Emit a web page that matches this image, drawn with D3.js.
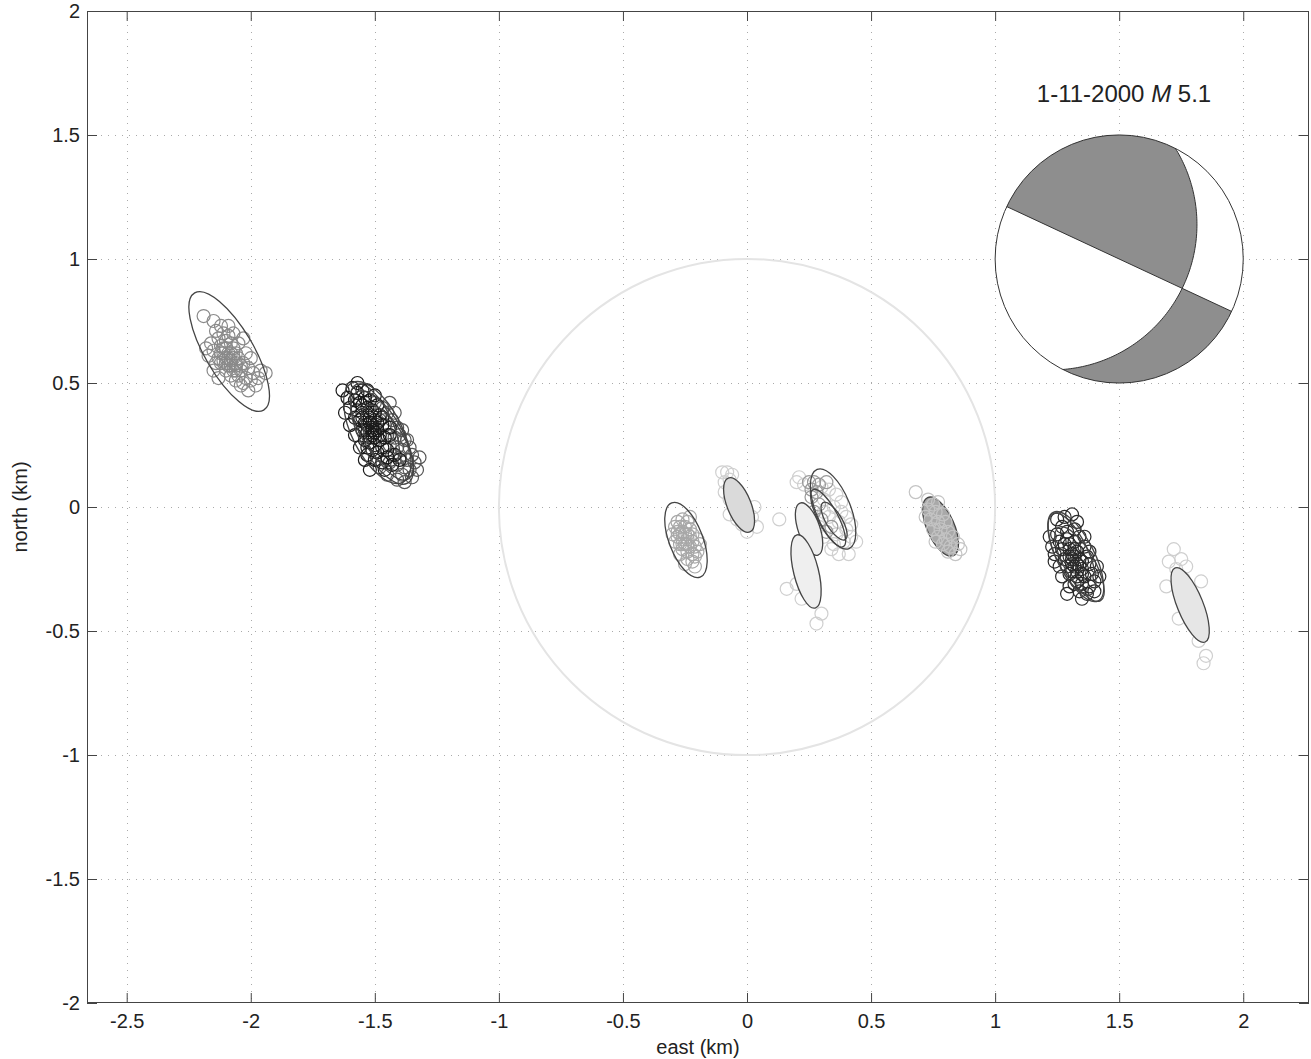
<!DOCTYPE html>
<html>
<head>
<meta charset="utf-8">
<script src="https://cdn.jsdelivr.net/npm/d3@7"></script>
<style>
    body { margin: 0; background: #fff; }
    svg text { font-family: "Liberation Sans", Arial, Helvetica, sans-serif; fill: #222; }
</style>
</head>
<body>
<svg id="chart" width="1311" height="1059"></svg>
<script>
'use strict';

/* global d3 */

// axis ticks
var xTicks = [-2.5, -2, -1.5, -1, -0.5, 0, 0.5, 1, 1.5, 2];
var yTicks = [-2, -1.5, -1, -0.5, 0, 0.5, 1, 1.5, 2];

// relocated events, [east, north] in km
var clusterA = [[-2.19,0.77],[-2.15,0.75],[-2.12,0.73],[-2.14,0.71],[-2.11,0.70],[-2.09,0.69],[-2.13,0.68],[-2.10,0.67],
    [-2.08,0.66],[-2.12,0.65],[-2.10,0.64],[-2.07,0.64],[-2.15,0.63],[-2.11,0.62],[-2.09,0.62],[-2.06,0.62],[-2.13,0.60],
    [-2.10,0.60],[-2.08,0.59],[-2.05,0.60],[-2.12,0.58],[-2.09,0.57],[-2.06,0.57],[-2.03,0.58],[-2.10,0.55],[-2.07,0.55],
    [-2.04,0.55],[-2.01,0.56],[-2.08,0.53],[-2.05,0.53],[-2.02,0.52],[-1.99,0.54],[-1.96,0.55],[-2.06,0.51],[-2.03,0.50],
    [-2.00,0.51],[-1.97,0.52],[-2.04,0.49],[-2.16,0.66],[-2.14,0.58],[-2.02,0.62],[-2.00,0.60],[-2.05,0.66],[-2.17,0.61],
    [-2.09,0.73],[-1.94,0.54],[-2.15,0.55],[-2.13,0.52],[-2.07,0.70],[-2.03,0.68],[-2.18,0.64],[-2.01,0.47],[-1.98,0.49],
    [-2.11,0.59],[-2.08,0.62],[-2.06,0.58],[-2.11,0.64],[-2.09,0.60],[-2.07,0.60],[-2.10,0.58],[-2.08,0.57],[-2.12,0.62],
    [-2.06,0.55],[-2.04,0.57]];
var clusterBdark = [[-1.59,0.48],[-1.57,0.46],[-1.55,0.47],[-1.58,0.43],[-1.56,0.42],[-1.54,0.44],[-1.52,0.43],[-1.57,0.39],
    [-1.55,0.38],[-1.53,0.40],[-1.51,0.39],[-1.49,0.41],[-1.56,0.35],[-1.54,0.34],[-1.52,0.36],[-1.50,0.35],[-1.48,0.37],
    [-1.55,0.31],[-1.53,0.30],[-1.51,0.32],[-1.49,0.31],[-1.47,0.33],[-1.54,0.27],[-1.52,0.26],[-1.50,0.28],[-1.48,0.27],
    [-1.51,0.23],[-1.49,0.22],[-1.47,0.24],[-1.45,0.23],[-1.50,0.19],[-1.47,0.18],[-1.45,0.20],[-1.43,0.17],[-1.46,0.15],
    [-1.58,0.36],[-1.60,0.40],[-1.44,0.29],[-1.53,0.21],[-1.42,0.21],[-1.61,0.44],[-1.40,0.19],[-1.53,0.33],[-1.51,0.29],
    [-1.55,0.41],[-1.50,0.25],[-1.62,0.38],[-1.60,0.33],[-1.58,0.29],[-1.56,0.24],[-1.54,0.19],[-1.52,0.15],[-1.63,0.47],
    [-1.57,0.50],[-1.53,0.47],[-1.46,0.28],[-1.44,0.32],[-1.47,0.36],[-1.50,0.45],[-1.53,0.37],[-1.52,0.34],[-1.51,0.31],
    [-1.50,0.30],[-1.52,0.28],[-1.54,0.31],[-1.55,0.36],[-1.49,0.34],[-1.50,0.38],[-1.53,0.24],[-1.48,0.29]];
var clusterBgray = [[-1.50,0.42],[-1.47,0.40],[-1.45,0.38],[-1.48,0.35],[-1.46,0.33],[-1.43,0.35],[-1.41,0.32],[-1.45,0.29],
    [-1.42,0.28],[-1.40,0.29],[-1.38,0.27],[-1.44,0.25],[-1.41,0.24],[-1.39,0.23],[-1.36,0.24],[-1.43,0.21],[-1.40,0.20],
    [-1.37,0.19],[-1.35,0.21],[-1.41,0.17],[-1.38,0.16],[-1.36,0.15],[-1.39,0.13],[-1.46,0.24],[-1.44,0.18],[-1.34,0.18],
    [-1.33,0.15],[-1.35,0.12],[-1.37,0.27],[-1.39,0.31],[-1.42,0.38],[-1.44,0.42],[-1.32,0.20],[-1.38,0.10],[-1.41,0.11],
    [-1.45,0.13],[-1.48,0.16]];
var clusterC = [[-0.28,-0.06],[-0.26,-0.05],[-0.24,-0.06],[-0.29,-0.08],[-0.27,-0.08],[-0.25,-0.08],[-0.23,-0.09],[-0.28,-0.10],
    [-0.26,-0.10],[-0.24,-0.11],[-0.22,-0.11],[-0.28,-0.12],[-0.26,-0.13],[-0.24,-0.13],[-0.22,-0.14],[-0.27,-0.15],
    [-0.25,-0.15],[-0.23,-0.16],[-0.21,-0.16],[-0.26,-0.17],[-0.24,-0.18],[-0.22,-0.19],[-0.20,-0.18],[-0.24,-0.21],
    [-0.22,-0.22],[-0.20,-0.13],[-0.30,-0.11],[-0.21,-0.24],[-0.29,-0.14],[-0.27,-0.19],[-0.19,-0.15],[-0.23,-0.04],
    [-0.21,-0.20],[-0.25,-0.23],[-0.25,-0.11],[-0.24,-0.15],[-0.26,-0.15],[-0.23,-0.12],[-0.27,-0.11]];
var clusterD = [[-0.10,0.14],[-0.08,0.14],[-0.06,0.13],[-0.09,0.10],[-0.07,0.11],[-0.09,0.06],[-0.06,0.07],[-0.07,0.03],
    [-0.05,0.04],[-0.07,-0.03],[-0.04,-0.05],[-0.03,0.00],[0.03,0.00],[0.02,-0.04],[0.04,-0.08],[0.00,-0.10],[-0.02,-0.07],
    [-0.05,0.02]];
var clusterElight = [[0.20,0.10],[0.21,0.12],[0.23,0.09],[0.30,0.08],[0.33,0.07],[0.36,0.05],[0.31,0.03],[0.35,0.00],
    [0.38,-0.02],[0.33,-0.04],[0.37,-0.06],[0.40,-0.09],[0.42,-0.12],[0.44,-0.14],[0.39,-0.14],[0.35,-0.15],[0.34,-0.17],
    [0.41,-0.19],[0.37,-0.19],[0.31,-0.12],[0.29,-0.08],[0.13,-0.05],[0.20,-0.31],[0.16,-0.33],[0.22,-0.37],[0.30,-0.43],
    [0.28,-0.47],[0.31,-0.02],[0.40,-0.04],[0.38,0.02],[0.42,-0.07],[0.36,-0.11]];
var clusterEmid = [[0.25,0.10],[0.27,0.10],[0.28,0.06],[0.29,0.09],[0.26,0.04],[0.29,0.01],[0.32,0.10],[0.27,-0.02],
    [0.30,-0.05],[0.34,-0.08],[0.26,0.07],[0.32,-0.10]];
var clusterF = [[0.68,0.06],[0.73,0.03],[0.75,0.01],[0.77,0.02],[0.73,-0.01],[0.76,-0.02],[0.79,-0.03],[0.74,-0.05],
    [0.77,-0.06],[0.80,-0.06],[0.75,-0.09],[0.78,-0.09],[0.81,-0.10],[0.77,-0.12],[0.80,-0.13],[0.83,-0.12],[0.79,-0.15],
    [0.82,-0.16],[0.85,-0.15],[0.81,-0.18],[0.84,-0.19],[0.72,-0.04],[0.76,-0.14],[0.86,-0.17]];
var clusterG = [[1.25,-0.05],[1.31,-0.03],[1.27,-0.08],[1.25,-0.11],[1.29,-0.10],[1.32,-0.09],[1.26,-0.14],[1.29,-0.13],
    [1.32,-0.14],[1.34,-0.12],[1.27,-0.17],[1.30,-0.17],[1.33,-0.18],[1.36,-0.16],[1.28,-0.21],[1.31,-0.21],[1.34,-0.21],
    [1.37,-0.20],[1.29,-0.24],[1.32,-0.24],[1.35,-0.25],[1.38,-0.23],[1.30,-0.27],[1.33,-0.28],[1.36,-0.28],[1.39,-0.27],
    [1.32,-0.31],[1.35,-0.31],[1.38,-0.32],[1.34,-0.34],[1.37,-0.35],[1.24,-0.19],[1.40,-0.30],[1.26,-0.24],[1.30,-0.32],
    [1.28,-0.15],[1.31,-0.19],[1.33,-0.23],[1.35,-0.27],[1.22,-0.12],[1.23,-0.16],[1.24,-0.22],[1.27,-0.28],[1.29,-0.35],
    [1.41,-0.24],[1.42,-0.28],[1.40,-0.34],[1.38,-0.18],[1.36,-0.12],[1.33,-0.06],[1.28,-0.04],[1.35,-0.37],[1.30,-0.20],
    [1.32,-0.20],[1.31,-0.23],[1.33,-0.26],[1.34,-0.24],[1.30,-0.15],[1.32,-0.17],[1.35,-0.22],[1.33,-0.30],[1.31,-0.26]];
var clusterH = [[1.72,-0.17],[1.70,-0.22],[1.75,-0.21],[1.77,-0.24],[1.73,-0.25],[1.69,-0.32],[1.83,-0.30],[1.76,-0.33],
    [1.79,-0.37],[1.81,-0.42],[1.78,-0.44],[1.74,-0.45],[1.83,-0.48],[1.82,-0.54],[1.85,-0.60],[1.84,-0.63],[1.80,-0.39],
    [1.76,-0.29]];

// error ellipses, [east, north, semi-major, semi-minor, azimuth of major axis from east (deg)]
var ellipsesA = [[-2.087, 0.627, 0.274, 0.097, -59.5]];
var ellipsesB = [[-1.49, 0.30, 0.225, 0.10, -63], [-1.47, 0.28, 0.21, 0.085, -61], [-1.50, 0.33, 0.18, 0.07, -65],
    [-1.45, 0.26, 0.17, 0.07, -60]];
var ellipsesC = [[-0.246, -0.133, 0.16, 0.068, -69]];
var ellipsesD = [[-0.032, 0.008, 0.117, 0.048, -68]];
var ellipsesE = [[0.347, -0.008, 0.172, 0.07, -68], [0.327, -0.045, 0.13, 0.04, -62], [0.351, -0.057, 0.087, 0.032, -59]];
var ellipsesE2 = [[0.25, -0.089, 0.111, 0.044, -71], [0.238, -0.26, 0.152, 0.05, -76]];
var ellipsesF = [[0.78, -0.079, 0.128, 0.055, -66]];
var ellipsesG = [[1.325, -0.20, 0.20, 0.075, -63], [1.31, -0.19, 0.18, 0.065, -65], [1.34, -0.23, 0.17, 0.06, -60]];
var ellipsesH = [[1.786, -0.395, 0.161, 0.052, -68]];

// reference circle and focal mechanism
var refRadius = 1;
var bbCenter = [1.5, 1.0];
var bbRadius = 0.5;
var plane1Strike = 115; // vertical plane
var plane2DipDir = 117;
var plane2Dip = 31.5;

var plot = { left: 87, top: 11, right: 1309, bottom: 1003 };
var FONT = "'Liberation Sans', Arial, Helvetica, sans-serif";

var svg = d3.select("#chart");

var x = d3.scaleLinear().domain([-2.66, 2.265]).range([plot.left, plot.right]);
var y = d3.scaleLinear().domain([-2, 2]).range([plot.bottom, plot.top]);
var k = x(1) - x(0);

function fmt(d) { return String(d); }

// grid
var grid = svg.append("g").attr("class", "grid");
grid.selectAll("line.gx")
    .data(xTicks)
    .enter().append("line")
    .attr("x1", function (d) { return Math.round(x(d)) + 0.5; })
    .attr("x2", function (d) { return Math.round(x(d)) + 0.5; })
    .attr("y1", plot.top)
    .attr("y2", plot.bottom)
    .attr("stroke", "#aaa")
    .attr("stroke-dasharray", "1,6");
grid.selectAll("line.gy")
    .data(yTicks.slice(1, -1))
    .enter().append("line")
    .attr("y1", function (d) { return Math.round(y(d)) + 0.5; })
    .attr("y2", function (d) { return Math.round(y(d)) + 0.5; })
    .attr("x1", plot.left)
    .attr("x2", plot.right)
    .attr("stroke", "#aaa")
    .attr("stroke-dasharray", "1,6");

// reference circle
svg.append("circle")
    .attr("cx", x(0))
    .attr("cy", y(0))
    .attr("r", refRadius * k)
    .attr("fill", "none")
    .attr("stroke", "#e4e4e4")
    .attr("stroke-width", 2);

var marks = svg.append("g");

function drawPoints(pts, color) {
    marks.append("g").selectAll("circle")
        .data(pts)
        .enter().append("circle")
        .attr("cx", function (d) { return x(d[0]); })
        .attr("cy", function (d) { return y(d[1]); })
        .attr("r", 6.5)
        .attr("fill", "none")
        .attr("stroke", color)
        .attr("stroke-width", 1.2);
}

function drawEllipses(list, fill, fillOpacity) {
    marks.append("g").selectAll("ellipse")
        .data(list)
        .enter().append("ellipse")
        .attr("cx", function (d) { return x(d[0]); })
        .attr("cy", function (d) { return y(d[1]); })
        .attr("rx", function (d) { return d[2] * k; })
        .attr("ry", function (d) { return d[3] * k; })
        .attr("transform", function (d) { return "rotate(" + (-d[4]) + "," + x(d[0]) + "," + y(d[1]) + ")"; })
        .attr("fill", fill)
        .attr("fill-opacity", fillOpacity)
        .attr("stroke", "#444")
        .attr("stroke-width", 1.3);
}

drawPoints(clusterA, "#8a8a8a");
drawEllipses(ellipsesA, "none", 1);

drawPoints(clusterBgray, "#555");
drawPoints(clusterBdark, "#1a1a1a");
drawEllipses(ellipsesB, "none", 1);

drawPoints(clusterC, "#a8a8a8");
drawEllipses(ellipsesC, "none", 1);

drawPoints(clusterD, "#cfcfcf");
drawEllipses(ellipsesD, "#dadada", 1);

drawPoints(clusterElight, "#cfcfcf");
drawPoints(clusterEmid, "#999");
drawEllipses(ellipsesE2, "#efefef", 1);
drawEllipses(ellipsesE, "none", 1);

drawEllipses(ellipsesF, "#a9a9a9", 1);
drawPoints(clusterF, "#c4c4c4");

drawPoints(clusterG, "#2a2a2a");
drawEllipses(ellipsesG, "none", 1);

drawPoints(clusterH, "#cfcfcf");
drawEllipses(ellipsesH, "#e6e6e6", 1);

// focal mechanism (lower hemisphere, stereographic)
var d2r = Math.PI / 180;
function rimPts(az0, az1, n) {
    return d3.range(n + 1).map(function (i) {
        var a = (az0 + (az1 - az0) * i / n) * d2r;
        return [Math.sin(a), Math.cos(a)];
    });
}
var u = [Math.sin(plane1Strike * d2r), Math.cos(plane1Strike * d2r)];
var td = Math.tan(plane2Dip * d2r);
var R2 = 1 / Math.cos(plane2Dip * d2r);
var C2 = [-td * Math.sin(plane2DipDir * d2r), -td * Math.cos(plane2DipDir * d2r)];
var uc = u[0] * C2[0] + u[1] * C2[1];
var tX = uc + Math.sqrt(uc * uc + 1);
var X = [tX * u[0], tX * u[1]];
var strike2 = plane2DipDir - 90;
var A2 = [Math.sin(strike2 * d2r), Math.cos(strike2 * d2r)];
var B2 = [-A2[0], -A2[1]];
var P1 = [-u[0], -u[1]];

function angC(p) { return Math.atan2(p[1] - C2[1], p[0] - C2[0]); }
function arcPts(p0, p1, n) {
    var a0 = angC(p0), d = angC(p1) - a0;
    while (d > Math.PI) d -= 2 * Math.PI;
    while (d < -Math.PI) d += 2 * Math.PI;
    return d3.range(n + 1).map(function (i) {
        var a = a0 + d * i / n;
        return [C2[0] + R2 * Math.cos(a), C2[1] + R2 * Math.sin(a)];
    });
}
function toPx(p) { return [x(bbCenter[0] + bbRadius * p[0]), y(bbCenter[1] + bbRadius * p[1])]; }

var region1 = rimPts(plane1Strike + 180, strike2 + 360, 80).concat(arcPts(A2, X, 60)).concat([[0, 0]]);
var region2 = [X].concat(rimPts(plane1Strike, strike2 + 180, 80)).concat(arcPts(B2, X, 60));

var line = d3.line();
var bb = svg.append("g");
bb.append("circle")
    .attr("cx", x(bbCenter[0]))
    .attr("cy", y(bbCenter[1]))
    .attr("r", bbRadius * k)
    .attr("fill", "#fff");
[region1, region2].forEach(function (reg) {
    bb.append("path")
        .attr("d", line(reg.map(toPx)) + "Z")
        .attr("fill", "#8e8e8e")
        .attr("stroke", "none");
});
bb.append("path")
    .attr("d", line([P1, u].map(toPx)))
    .attr("fill", "none")
    .attr("stroke", "#333")
    .attr("stroke-width", 1);
bb.append("path")
    .attr("d", line(arcPts(A2, B2, 120).map(toPx)))
    .attr("fill", "none")
    .attr("stroke", "#333")
    .attr("stroke-width", 1);
bb.append("circle")
    .attr("cx", x(bbCenter[0]))
    .attr("cy", y(bbCenter[1]))
    .attr("r", bbRadius * k)
    .attr("fill", "none")
    .attr("stroke", "#333")
    .attr("stroke-width", 1);

// title
var title = svg.append("text")
    .attr("x", 1124)
    .attr("y", 102)
    .attr("text-anchor", "middle")
    .style("font-size", "24px");
title.append("tspan").text("1-11-2000 ");
title.append("tspan").style("font-style", "italic").text("M");
title.append("tspan").text(" 5.1");

// axes, ticks inside on all four sides
function styleAxis(g) {
    g.select(".domain").remove();
    g.selectAll(".tick line").attr("stroke", "#444");
    g.selectAll(".tick text").attr("fill", "#222").style("font-size", "20px").style("font-family", FONT);
}
svg.append("g")
    .attr("transform", "translate(0," + plot.bottom + ")")
    .call(d3.axisBottom(x).tickValues(xTicks).tickFormat(fmt).tickSizeInner(-10).tickSizeOuter(0).tickPadding(11))
    .call(styleAxis);
svg.append("g")
    .attr("transform", "translate(0," + plot.top + ")")
    .call(d3.axisTop(x).tickValues(xTicks).tickFormat("").tickSizeInner(-10).tickSizeOuter(0))
    .call(styleAxis);
svg.append("g")
    .attr("transform", "translate(" + plot.left + ",0)")
    .call(d3.axisLeft(y).tickValues(yTicks).tickFormat(fmt).tickSizeInner(-10).tickSizeOuter(0).tickPadding(7))
    .call(styleAxis);
svg.append("g")
    .attr("transform", "translate(" + plot.right + ",0)")
    .call(d3.axisRight(y).tickValues(yTicks).tickFormat("").tickSizeInner(-10).tickSizeOuter(0))
    .call(styleAxis);

svg.append("rect")
    .attr("x", plot.left + 0.5)
    .attr("y", plot.top + 0.5)
    .attr("width", plot.right - plot.left - 1)
    .attr("height", plot.bottom - plot.top - 1)
    .attr("fill", "none")
    .attr("stroke", "#444");

// axis labels
svg.append("text")
    .attr("x", (plot.left + plot.right) / 2)
    .attr("y", 1054)
    .attr("text-anchor", "middle")
    .style("font-size", "20px")
    .text("east (km)");
svg.append("text")
    .attr("transform", "translate(27," + ((plot.top + plot.bottom) / 2) + ") rotate(-90)")
    .attr("text-anchor", "middle")
    .style("font-size", "20px")
    .text("north (km)");
</script>
</body>
</html>
